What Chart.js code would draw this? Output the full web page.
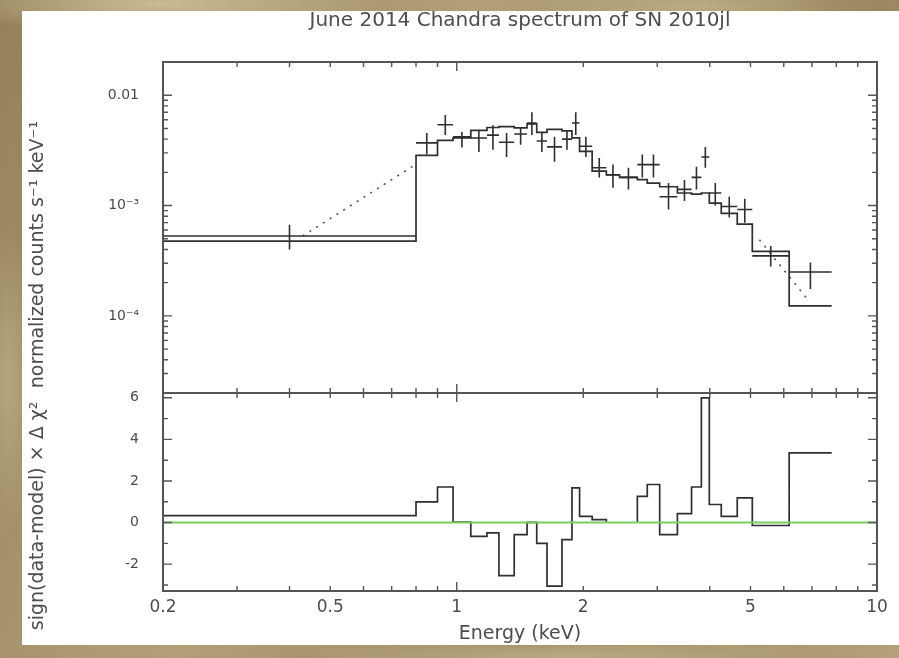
<!DOCTYPE html>
<html>
<head>
<meta charset="utf-8">
<title>June 2014 Chandra spectrum of SN 2010jl</title>
<script src="https://cdn.jsdelivr.net/npm/chart.js@4.4.1/dist/chart.umd.min.js"></script>
<style>
  html, body { margin: 0; padding: 0; }
  body {
    width: 899px;
    height: 658px;
    overflow: hidden;
    position: relative;
    background-color: #a6926b;
    background-image:
      radial-gradient(ellipse 320px 40px at 160px 4px, rgba(222, 208, 170, 0.7), transparent 70%),
      radial-gradient(ellipse 260px 30px at 700px 6px, rgba(205, 190, 150, 0.6), transparent 70%),
      radial-gradient(ellipse 40px 220px at 8px 380px, rgba(200, 186, 146, 0.55), transparent 70%),
      radial-gradient(ellipse 380px 30px at 560px 656px, rgba(215, 200, 160, 0.55), transparent 70%),
      linear-gradient(115deg, rgba(95, 75, 45, 0.25), rgba(225, 210, 175, 0.2) 40%, rgba(95, 75, 45, 0.2) 70%, rgba(220, 205, 170, 0.25));
  }
  #panel {
    position: absolute;
    left: 22px;
    top: 11px;
    width: 877px;
    height: 634px;
    background: #fff;
  }
  canvas { display: block; }
</style>
</head>
<body>
<div id="panel"><canvas id="spectrum" width="877" height="634"></canvas></div>
<script>
// Energy bin edges (keV); every bin carries one data point, one model level and one residual
const binEdges = [0.2, 0.8, 0.9, 0.98, 1.08, 1.18, 1.26, 1.37, 1.47, 1.55, 1.64, 1.78, 1.88, 1.96,
  2.1, 2.27, 2.44, 2.69, 2.84, 3.04, 3.35, 3.62, 3.82, 3.99, 4.26, 4.65, 5.05, 6.18, 7.8];

// Measured rate (counts s^-1 keV^-1) with the top and bottom of its error bar
const counts = [5.3e-4, 3.7e-3, 5.4e-3, 4.2e-3, 4.1e-3, 4.35e-3, 3.75e-3, 4.45e-3, 5.6e-3, 3.85e-3,
  3.4e-3, 4.0e-3, 5.6e-3, 3.45e-3, 2.2e-3, 1.9e-3, 1.8e-3, 2.35e-3, 2.35e-3, 1.2e-3,
  1.4e-3, 1.8e-3, 2.75e-3, 1.3e-3, 9.8e-4, 9.2e-4, 3.5e-4, 2.5e-4];
const countsHi = [6.7e-4, 4.55e-3, 6.6e-3, 4.65e-3, 4.85e-3, 5.35e-3, 4.55e-3, 5.15e-3, 7.0e-3, 4.55e-3,
  4.2e-3, 4.85e-3, 7.0e-3, 4.2e-3, 2.7e-3, 2.35e-3, 2.2e-3, 2.9e-3, 2.9e-3, 1.6e-3,
  1.7e-3, 2.25e-3, 3.4e-3, 1.6e-3, 1.2e-3, 1.15e-3, 4.3e-4, 3.05e-4];
const countsLo = [4.0e-4, 2.9e-3, 4.35e-3, 3.35e-3, 3.05e-3, 3.2e-3, 2.75e-3, 3.55e-3, 4.35e-3, 3.05e-3,
  2.5e-3, 3.2e-3, 4.35e-3, 2.75e-3, 1.8e-3, 1.45e-3, 1.4e-3, 1.8e-3, 1.8e-3, 9.2e-4,
  1.1e-3, 1.4e-3, 2.2e-3, 1.0e-3, 7.8e-4, 7.0e-4, 2.8e-4, 1.75e-4];

// Folded model, one level per bin
const model = [4.75e-4, 2.85e-3, 3.9e-3, 4.1e-3, 4.8e-3, 5.1e-3, 5.2e-3, 5.05e-3, 5.5e-3, 4.6e-3,
  4.9e-3, 4.75e-3, 4.1e-3, 3.1e-3, 2.05e-3, 1.9e-3, 1.8e-3, 1.72e-3, 1.6e-3, 1.48e-3,
  1.3e-3, 1.27e-3, 1.3e-3, 1.05e-3, 8.5e-4, 6.8e-4, 3.85e-4, 1.23e-4];

// sign(data-model) x delta chi^2 for each bin
const residual = [0.33, 1.0, 1.71, 0.02, -0.66, -0.5, -2.55, -0.58, 0.01, -1.0,
  -3.06, -0.82, 1.67, 0.3, 0.14, 0, 0, 1.26, 1.83, -0.58,
  0.43, 1.71, 6.0, 0.87, 0.3, 1.19, -0.14, 3.35];

// Dotted model curve; only the pieces that leave the histogram show (null splits them)
const curveE = [0.43, 0.79, 2.0, 5.25, 6.85];
const curveV = [5.3e-4, 2.3e-3, null, 4.9e-4, 1.4e-4];

// Axis ticks and their labels
const energyTicks = [0.2, 0.5, 1, 2, 5, 10];
const energyLabels = ['0.2', '0.5', '1', '2', '5', '10'];
const rateTicks = [1e-4, 1e-3, 1e-2];
const rateLabels = ['10⁻⁴', '10⁻³', '0.01'];
const chiTicks = [-2, 0, 2, 4, 6];
const chiLabels = ['-2', '0', '2', '4', '6'];

const fontFamily = '"DejaVu Sans", "Liberation Sans", sans-serif';
const textColor = '#4d4d4d';
const inkColor = '#2f2f2f';
const axisColor = '#555';

// turn per-bin levels into a histogram outline
function histogram(edges, values) {
  const pts = [];
  values.forEach((v, i) => {
    pts.push({ x: edges[i], y: v });
    pts.push({ x: edges[i + 1], y: v });
  });
  return pts;
}

// minor/major tick positions for the frame
function logTicks(min, max) {
  const out = [];
  for (let e = Math.floor(Math.log10(min)); e <= Math.ceil(Math.log10(max)); e++) {
    for (let m = 1; m <= 9; m++) {
      const v = m * Math.pow(10, e);
      if (v >= min * 0.999 && v <= max * 1.001) out.push({ v, major: m === 1 });
    }
  }
  return out;
}

function linTicks(min, max) {
  const out = [];
  for (let v = Math.ceil(min); v <= Math.floor(max); v++) out.push({ v, major: v % 2 === 0 });
  return out;
}

// crosses: bin width horizontally, 1 sigma vertically
const errorBars = {
  id: 'errorBars',
  afterDatasetsDraw(chart) {
    const { ctx, scales: { x, y } } = chart;
    ctx.save();
    ctx.strokeStyle = inkColor;
    ctx.lineWidth = 1.6;
    ctx.beginPath();
    counts.forEach((c, i) => {
      const lo = binEdges[i], hi = binEdges[i + 1];
      const cx = x.getPixelForValue(Math.sqrt(lo * hi));
      const cy = y.getPixelForValue(c);
      ctx.moveTo(x.getPixelForValue(lo), cy);
      ctx.lineTo(x.getPixelForValue(hi), cy);
      ctx.moveTo(cx, y.getPixelForValue(countsHi[i]));
      ctx.lineTo(cx, y.getPixelForValue(countsLo[i]));
    });
    ctx.stroke();
    ctx.restore();
  }
};

// box round each panel with inward ticks on all four sides
const frame = {
  id: 'frame',
  afterDatasetsDraw(chart) {
    const { ctx, chartArea, scales } = chart;
    const xs = scales.x;
    const left = chartArea.left, right = chartArea.right;
    ctx.save();
    ctx.strokeStyle = axisColor;
    [scales.y, scales.y2].forEach((ys) => {
      const top = ys.top, bottom = ys.bottom;
      ctx.lineWidth = 1.4;
      ctx.beginPath();
      logTicks(xs.min, xs.max).forEach((t) => {
        const px = xs.getPixelForValue(t.v);
        const len = t.major ? 9 : 5;
        ctx.moveTo(px, top); ctx.lineTo(px, top + len);
        ctx.moveTo(px, bottom); ctx.lineTo(px, bottom - len);
      });
      const yt = ys.type === 'logarithmic' ? logTicks(ys.min, ys.max) : linTicks(ys.min, ys.max);
      yt.forEach((t) => {
        const py = ys.getPixelForValue(t.v);
        const len = t.major ? 9 : 5;
        ctx.moveTo(left, py); ctx.lineTo(left + len, py);
        ctx.moveTo(right, py); ctx.lineTo(right - len, py);
      });
      ctx.stroke();
      ctx.lineWidth = 2;
      ctx.strokeRect(left, top, right - left, bottom - top);
    });
    ctx.restore();
  }
};

// rotated axis titles, one per panel
const sideTitles = {
  id: 'sideTitles',
  afterDraw(chart) {
    const { ctx, scales: { y, y2 } } = chart;
    const items = [
      ['normalized counts s⁻¹ keV⁻¹', (y.top + y.bottom) / 2 + 27],
      ['sign(data-model) × Δ χ²', (y2.top + y2.bottom) / 2 + 24]
    ];
    ctx.save();
    ctx.font = '19px ' + fontFamily;
    ctx.fillStyle = textColor;
    ctx.textAlign = 'center';
    ctx.textBaseline = 'middle';
    items.forEach(([text, cy]) => {
      ctx.save();
      ctx.translate(16, cy);
      ctx.rotate(-Math.PI / 2);
      ctx.fillText(text, 0, 0);
      ctx.restore();
    });
    ctx.restore();
  }
};

const hiddenGrid = { display: false, drawTicks: false };

// stretches lying exactly on zero are left to the green zero line
const offZero = (c) => (c.p0.parsed.y === 0 && c.p1.parsed.y === 0 ? 'rgba(0,0,0,0)' : inkColor);

new Chart(document.getElementById('spectrum'), {
  type: 'line',
  data: {
    datasets: [
      {
        label: 'zero',
        data: [{ x: 0.2, y: 0 }, { x: 10, y: 0 }],
        yAxisID: 'y2',
        borderColor: '#7ccb62',
        borderWidth: 2,
        pointRadius: 0,
        order: 0
      },
      {
        label: 'residual',
        data: histogram(binEdges, residual),
        yAxisID: 'y2',
        borderColor: inkColor,
        segment: { borderColor: offZero },
        borderWidth: 1.7,
        pointRadius: 0,
        order: 2
      },
      {
        label: 'model',
        data: histogram(binEdges, model),
        yAxisID: 'y',
        borderColor: inkColor,
        borderWidth: 1.7,
        pointRadius: 0,
        order: 2
      },
      {
        label: 'model curve',
        data: curveE.map((e, i) => ({ x: e, y: curveV[i] })),
        yAxisID: 'y',
        borderColor: '#555',
        borderWidth: 1.6,
        borderDash: [2, 6],
        pointRadius: 0,
        order: 3
      }
    ]
  },
  options: {
    responsive: false,
    animation: false,
    devicePixelRatio: 1,
    layout: { padding: { left: 0, right: 22, top: 0, bottom: 0 } },
    plugins: {
      legend: { display: false },
      tooltip: { enabled: false },
      title: {
        display: true,
        fullSize: false,
        text: 'June 2014 Chandra spectrum of SN 2010jl',
        color: textColor,
        font: { family: fontFamily, size: 20, weight: 'normal', lineHeight: 1 },
        padding: { top: 0, bottom: 31 }
      }
    },
    scales: {
      x: {
        type: 'logarithmic',
        position: 'bottom',
        min: 0.2,
        max: 10,
        grid: hiddenGrid,
        border: { display: false },
        afterBuildTicks: (s) => { s.ticks = energyTicks.map((v) => ({ value: v })); },
        afterFit: (s) => { s.height = 54; },
        ticks: {
          callback: (v, i) => energyLabels[i],
          autoSkip: false,
          maxRotation: 0,
          padding: 6,
          color: textColor,
          font: { family: fontFamily, size: 17 }
        },
        title: {
          display: true,
          text: 'Energy (keV)',
          color: textColor,
          font: { family: fontFamily, size: 19 },
          padding: 0
        }
      },
      y: {
        type: 'logarithmic',
        position: 'left',
        stack: 'panels',
        stackWeight: 331,
        weight: 1,
        min: 2e-5,
        max: 0.02,
        grid: hiddenGrid,
        border: { display: false },
        afterBuildTicks: (s) => { s.ticks = rateTicks.map((v) => ({ value: v })); },
        afterFit: (s) => { s.width = 141; },
        ticks: {
          callback: (v, i) => rateLabels[i],
          padding: 24,
          color: textColor,
          font: { family: fontFamily, size: 14 }
        }
      },
      y2: {
        type: 'linear',
        position: 'left',
        stack: 'panels',
        stackWeight: 198,
        weight: 0,
        min: -3.29,
        max: 6.23,
        grid: hiddenGrid,
        border: { display: false },
        afterBuildTicks: (s) => { s.ticks = chiTicks.map((v) => ({ value: v })); },
        afterFit: (s) => { s.width = 141; },
        ticks: {
          callback: (v, i) => chiLabels[i],
          padding: 24,
          color: textColor,
          font: { family: fontFamily, size: 14 }
        }
      }
    }
  },
  plugins: [errorBars, frame, sideTitles]
});
</script>
</body>
</html>
